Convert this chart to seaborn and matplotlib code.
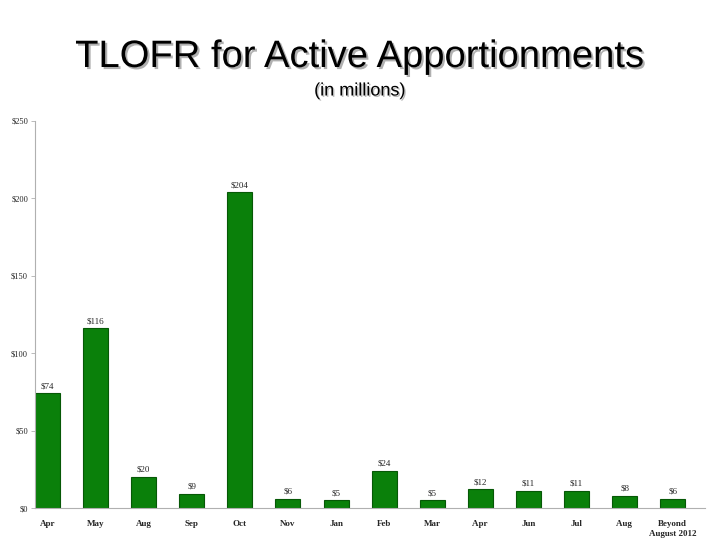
import matplotlib
matplotlib.use("Agg")
import matplotlib.pyplot as plt
import matplotlib.patheffects as pe
import seaborn as sns
import pandas as pd

months = ["Apr", "May", "Aug", "Sep", "Oct", "Nov", "Jan", "Feb", "Mar",
          "Apr ", "Jun", "Jul", "Aug ", "Beyond\nAugust 2012"]
values = [74, 116, 20, 9, 204, 6, 5, 24, 5, 12, 11, 11, 8, 6]
bar_labels = ["$74", "$116", "$20", "$9", "$204", "$6", "$5", "$24", "$5",
              "$12", "$11", "$11", "$8", "$6"]
y_ticks = [0, 50, 100, 150, 200, 250]
y_tick_labels = ["$0", "$50", "$100", "$150", "$200", "$250"]

sns.set_theme(style="white")
plt.rcParams['font.family'] = ['Liberation Serif', 'DejaVu Serif']

df = pd.DataFrame({"month": months, "value": values})

fig = plt.figure(figsize=(7.2, 5.4), dpi=100)
ax = fig.add_axes([35/720, 1 - 508/540, (705-35)/720, (508-121)/540])
sns.barplot(data=df, x="month", y="value", color="#0a800a", width=0.52,
            edgecolor="#065806", linewidth=0.8, saturation=1, ax=ax)

for i, (v, lab) in enumerate(zip(values, bar_labels)):
    ax.text(i, v + 2, lab, ha="center", va="bottom", fontsize=6.5,
            family="Liberation Serif")

ax.set_ylim(0, 250)
ax.set_yticks(y_ticks)
ax.set_yticklabels(y_tick_labels, fontsize=6)
ax.set_xticks(range(len(months)))
ax.set_xticklabels(months, fontsize=6.5, fontweight="bold", linespacing=1.3)
ax.set_xlabel("")
ax.set_ylabel("")
for s in ["top", "right"]:
    ax.spines[s].set_visible(False)
for s in ["left", "bottom"]:
    ax.spines[s].set_color("#b0b0b0")
    ax.spines[s].set_linewidth(0.8)
ax.tick_params(axis="y", which="both", left=True, length=3, width=0.6,
               color="#b0b0b0", pad=2)
ax.tick_params(axis="x", bottom=False, pad=3)
ax.set_xlim(-0.26, 13.67)

fig.text(0.5, 1 - 57/540, "TLOFR for Active Apportionments", ha="center", va="center",
         fontsize=27.5, family="Liberation Sans", color="black",
         path_effects=[pe.SimplePatchShadow(offset=(1.5, -1.5), shadow_rgbFace="#b0b0b0", alpha=1),
                       pe.Normal()])
fig.text(0.5, 1 - 91/540, "(in millions)", ha="center", va="center",
         fontsize=13, family="Liberation Sans", color="black",
         path_effects=[pe.SimplePatchShadow(offset=(1, -1), shadow_rgbFace="#b8b8b8", alpha=1),
                       pe.Normal()])

fig.savefig("out.png", dpi=100)
